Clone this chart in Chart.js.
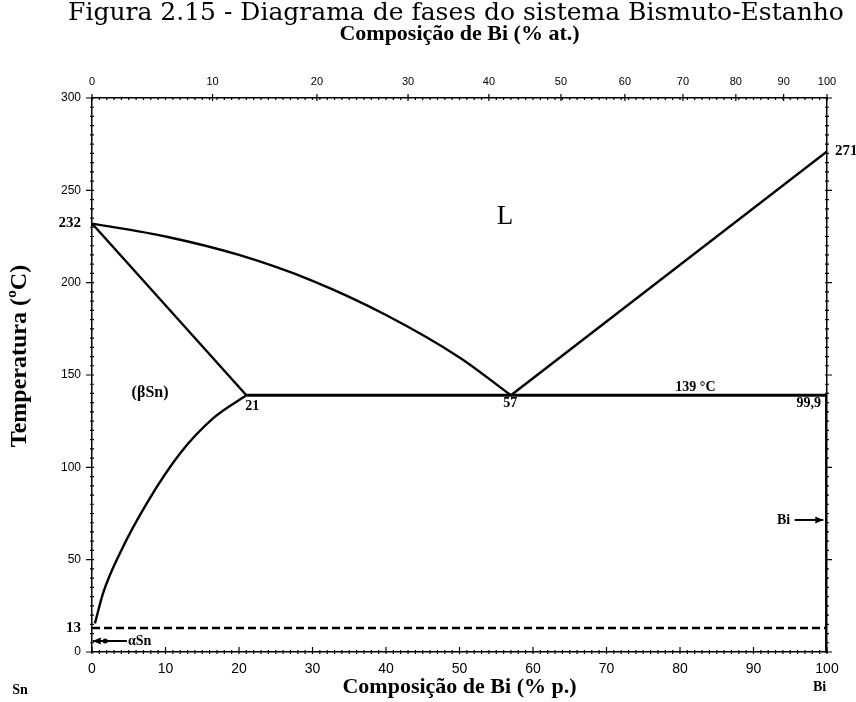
<!DOCTYPE html>
<html lang="pt">
<head>
<meta charset="UTF-8">
<title>Diagrama de fases Bi-Sn</title>
<style>
  body { margin: 0; background: #fff; }
  #chart-container { width: 856px; height: 702px; }
</style>
</head>
<body>
<div id="chart-container"><canvas id="myChart" width="856" height="702"></canvas></div>
<script src="https://cdn.jsdelivr.net/npm/chart.js"></script>
<script>
// values: x = % p. Bi, y = temperatura (ºC)
const liquidusSn = [[0, 232], [10, 225], [20, 215], [30, 201], [40, 182.5], [50, 159.5], [57, 139]];
const solidusSn  = [[0, 232], [21, 139]];
const solvusSn   = [[0.4, 15.5], [1.5, 31.8], [3.8, 53.5], [7.45, 80.5], [12, 107.6], [16.5, 126.6], [21, 139]];
const eutectic   = [[21, 139], [99.9, 139]];
const liquidusBi = [[57, 139], [100, 271]];
const solidusBi  = [[99.9, 139], [99.9, 0]];
const transSn    = [[0, 13], [100, 13]];

// temperature ticks, the special ones are printed in bold serif
const tempTicks    = [0, 13, 50, 100, 150, 200, 232, 250, 300];
const tempSpecial  = [13, 232];
const rightTicks   = [271];

// top axis: % at. labels and where they fall in % p.
const atLabels = ['0', '10', '20', '30', '40', '50', '60', '70', '80', '90', '100'];
const atPosWt  = [0, 16.4, 30.6, 43.0, 54.0, 63.8, 72.5, 80.4, 87.6, 94.1, 100];

// text in the diagram [text, x (% p.), T (ºC), align]
const notes = [
    ['21', 21.8, 133.2, 'center'],
    ['57', 56.9, 134.6, 'center'],
    ['99,9', 97.5, 134.6, 'center'],
    ['139 °C', 82.1, 143.5, 'center'],
    ['(βSn)', 7.9, 140.2, 'center'],
    ['αSn', 4.9, 6.0, 'left'],
    ['Bi', 95.0, 71.2, 'right'],
    ['Sn', -9.8, -20.6, 'center'],
    ['Bi', 99.0, -19, 'center']
];

const serifBold = '"Liberation Serif", "Times New Roman", serif';
const sans = '"Liberation Sans", Arial, sans-serif';

function line(data, extra) {
    return Object.assign({
        data: data,
        showLine: true,
        borderColor: '#000',
        borderWidth: 2.4,
        pointRadius: 0,
        fill: false
    }, extra || {});
}

// tick marks, caption, arrows and labels
const decorations = {
    id: 'decorations',
    afterDraw(chart) {
        const {ctx, chartArea: a, scales: {x, y}} = chart;
        ctx.save();
        ctx.strokeStyle = '#000';
        ctx.lineWidth = 1.2;
        ctx.beginPath();
        for (let v = 0; v <= 300; v += 5) {
            const py = y.getPixelForValue(v);
            const major = v % 50 === 0;
            ctx.moveTo(a.left - (major ? 6 : 2), py); ctx.lineTo(a.left + 2, py);
            ctx.moveTo(a.right - 2, py); ctx.lineTo(a.right + (major ? 5 : 2), py);
        }
        for (let v = 0; v <= 100; v += 1) {
            const px = x.getPixelForValue(v);
            const major = v % 10 === 0;
            ctx.moveTo(px, a.bottom + 2); ctx.lineTo(px, a.bottom - (major ? 5 : 2));
            ctx.moveTo(px, a.top - 1); ctx.lineTo(px, a.top + 2);
        }
        atPosWt.forEach(v => {
            const px = x.getPixelForValue(v);
            ctx.moveTo(px, a.top - 4); ctx.lineTo(px, a.top + 3);
        });
        ctx.stroke();

        // arrows
        const arrow = (x0, x1, xd, t) => {
            const py = y.getPixelForValue(t);
            const p0 = x.getPixelForValue(x0), p1 = x.getPixelForValue(x1);
            ctx.lineWidth = 2;
            ctx.beginPath(); ctx.moveTo(p0, py); ctx.lineTo(p1, py); ctx.stroke();
            const dir = p1 > p0 ? 1 : -1;
            ctx.beginPath();
            ctx.moveTo(p1, py); ctx.lineTo(p1 - dir * 8, py - 3.5); ctx.lineTo(p1 - dir * 8, py + 3.5);
            ctx.closePath(); ctx.fill();
            if (xd !== null) {
                ctx.beginPath(); ctx.arc(x.getPixelForValue(xd), py, 2.5, 0, Math.PI * 2); ctx.fill();
            }
        };
        ctx.fillStyle = '#000';
        arrow(4.75, 0.1, 1.8, 6.0);
        arrow(95.6, 99.5, null, 71.5);

        // labels inside the diagram
        ctx.textBaseline = 'middle';
        notes.forEach(([txt, vx, vy, al]) => {
            ctx.font = 'bold ' + (txt === '(βSn)' ? 16 : 14) + 'px ' + serifBold;
            ctx.textAlign = al;
            ctx.fillText(txt, x.getPixelForValue(vx), y.getPixelForValue(vy));
        });
        ctx.font = '27px "Liberation Serif", serif';
        ctx.textAlign = 'center';
        ctx.fillText('L', x.getPixelForValue(56.2), y.getPixelForValue(235.5));

        // y axis title
        ctx.save();
        ctx.translate(20, 356);
        ctx.rotate(-Math.PI / 2);
        ctx.font = 'bold 24px ' + serifBold;
        ctx.fillText('Temperatura (ºC)', 0, 0);
        ctx.restore();

        // figure caption
        ctx.font = '25px "DejaVu Serif", serif';
        ctx.textBaseline = 'alphabetic';
        ctx.fillText('Figura 2.15 - Diagrama de fases do sistema Bismuto-Estanho', 456, 20);
        ctx.restore();
    }
};

const data = {
    datasets: [
        line(liquidusSn, {cubicInterpolationMode: 'monotone'}),
        line(solidusSn),
        line(solvusSn, {cubicInterpolationMode: 'monotone'}),
        line(eutectic, {borderWidth: 3}),
        line(liquidusBi),
        line(solidusBi),
        line(transSn, {borderDash: [8, 4]})
    ]
};

const config = {
    type: 'scatter',
    data,
    options: {
        responsive: false,
        animation: false,
        layout: {padding: 0},
        plugins: {legend: {display: false}, tooltip: {enabled: false}},
        scales: {
            x: {
                type: 'linear', position: 'bottom', min: 0, max: 100,
                afterFit: s => { s.height = 50; },
                grid: {display: false, drawTicks: false},
                border: {display: true, color: '#000', width: 1.5},
                ticks: {stepSize: 10, padding: 9, color: '#000', font: {family: sans, size: 14}, maxRotation: 0},
                title: {display: true, text: 'Composição de Bi (% p.)', color: '#000',
                        font: {family: serifBold, size: 22, weight: 'bold', lineHeight: 1.2}, padding: {top: 0, bottom: 1}}
            },
            x2: {
                type: 'linear', position: 'top', min: 0, max: 100,
                afterFit: s => { s.height = 98; },
                afterBuildTicks: s => { s.ticks = atPosWt.map(v => ({value: v})); },
                grid: {display: false, drawTicks: false},
                border: {display: true, color: '#000', width: 1.5},
                ticks: {padding: 9, color: '#000', autoSkip: false, maxRotation: 0,
                        font: {family: sans, size: 11},
                        callback: (v, i) => atLabels[i]},
                title: {display: true, text: 'Composição de Bi (% at.)', color: '#000',
                        font: {family: serifBold, size: 22, weight: 'bold', lineHeight: 1.2}, padding: {top: 21, bottom: 0}}
            },
            y: {
                type: 'linear', position: 'left', min: 0, max: 300,
                afterFit: s => { s.width = 92; },
                afterBuildTicks: s => { s.ticks = tempTicks.map(v => ({value: v})); },
                grid: {display: false, drawTicks: false},
                border: {display: true, color: '#000', width: 1.5},
                ticks: {padding: 11, color: '#000', autoSkip: false,
                        font: ctx => (ctx.tick && tempSpecial.includes(ctx.tick.value))
                            ? {family: serifBold, size: 15, weight: 'bold'}
                            : {family: sans, size: 12}}
            },
            y2: {
                type: 'linear', position: 'right', min: 0, max: 300,
                afterFit: s => { s.width = 29; },
                afterBuildTicks: s => { s.ticks = rightTicks.map(v => ({value: v})); },
                grid: {display: false, drawTicks: false},
                border: {display: true, color: '#000', width: 1.5},
                ticks: {padding: 8, color: '#000', font: {family: serifBold, size: 15, weight: 'bold'}}
            }
        }
    },
    plugins: [decorations]
};

const myChart = new Chart(document.getElementById('myChart'), config);
</script>
</body>
</html>
